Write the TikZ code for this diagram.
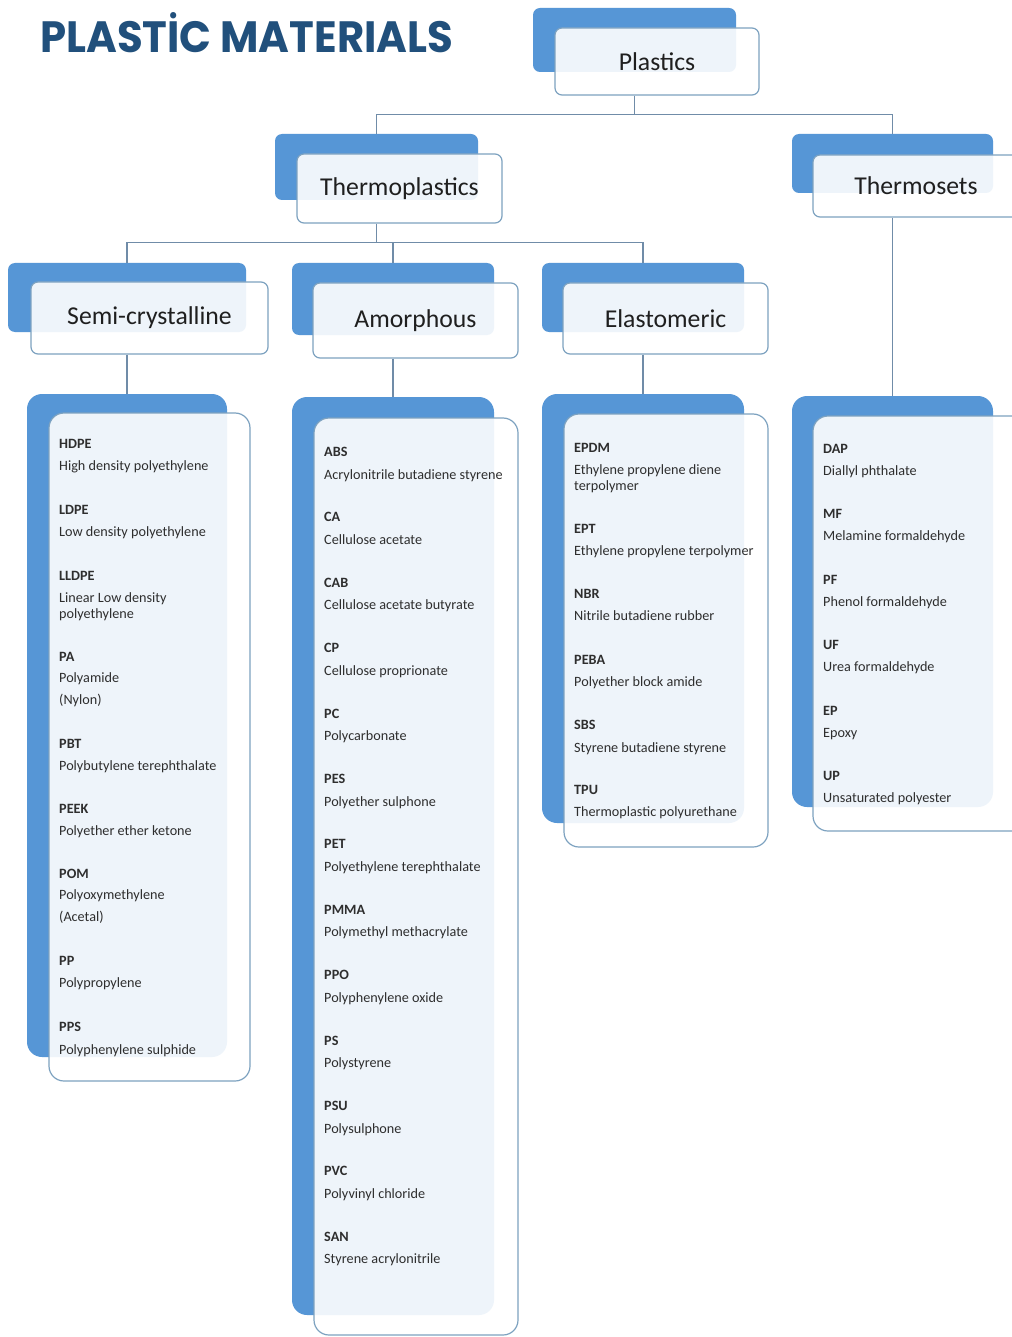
\documentclass[tikz,border=0pt]{standalone}
\usepackage{fontspec}
\setmainfont{Carlito}
\newfontfamily\titlefont{Poppins}
\definecolor{bbox}{RGB}{86,150,214}
\definecolor{wline}{RGB}{125,162,192}
\definecolor{connc}{RGB}{112,140,168}
\definecolor{ttl}{RGB}{33,80,124}
\newcommand\mkbox[6]{% name, style, x1, y1, x2, y2
  \node[#2, minimum width={(#5-#3)*1pt}, minimum height={(#6-#4)*1pt}] (#1) at ({(#3+#5)/2},{(#4+#6)/2}) {};}
\newcommand\mkhead[7]{% name, x1, y1, x2, y2, text, style
  \node[#7, minimum width={(#4-#2)*1pt}, minimum height={(#5-#3)*1pt}] (#1) at ({(#2+#4)/2},{(#3+#5)/2}) {#6};}
\newcommand\gap{\\[6.5pt]}
\tikzset{
  bluebox/.style={fill=bbox, draw=none, rounded corners=7pt, inner sep=0pt},
  whitebox/.style={fill=white, fill opacity=0.9, text opacity=1, draw=wline, line width=1.2pt,
     rounded corners=7pt, inner sep=0pt, font=\fontsize{25.7}{30}\selectfont, text=black!88},
  listblue/.style={bluebox, rounded corners=15pt},
  listwhite/.style={whitebox, rounded corners=15pt},
  itm/.style={anchor=north west, inner sep=0pt, align=left,
     font=\fontsize{14.2}{16}\selectfont, text=black!82},
  connline/.style={draw=connc, line width=1.2pt},
}
\begin{document}
\begin{tikzpicture}[x=1pt,y=-1pt]
\useasboundingbox (0,0) rectangle (1011,1337);
\fill[white] (0,0) rectangle (1011,1337);

% title
\node[anchor=base west, inner sep=0pt, text=ttl] (title) at (40,53)
  {\resizebox{413pt}{40pt}{\titlefont\bfseries PLASTİC MATERIALS}};

% header boxes
\mkbox{plb}{bluebox}{533}{8}{736}{72}
\mkhead{plw}{555}{28}{759}{95}{Plastics}{whitebox}
\mkbox{tpb}{bluebox}{275}{134}{478}{200}
\mkhead{tpw}{297}{154}{502}{223}{Thermoplastics}{whitebox}
\mkbox{tsb}{bluebox}{792}{134}{993}{193}
\mkhead{tsw}{813}{155}{1019}{217}{Thermosets}{whitebox}
\mkbox{scb}{bluebox}{8}{263}{246}{332}
\mkhead{scw}{31}{282}{268}{354}{Semi-crystalline}{whitebox}
\mkbox{amb}{bluebox}{292}{263}{494}{335}
\mkhead{amw}{313}{283}{518}{358}{Amorphous}{whitebox}
\mkbox{elb}{bluebox}{542}{263}{744}{332}
\mkhead{elw}{563}{283}{768}{354}{Elastomeric}{whitebox}

% list boxes
\mkbox{scl}{listblue}{27}{394}{227}{1057}
\mkbox{sclw}{listwhite}{49}{413}{250}{1081}
\mkbox{aml}{listblue}{292}{397}{494}{1315}
\mkbox{amlw}{listwhite}{314}{418}{518}{1335}
\mkbox{ell}{listblue}{542}{394}{744}{823}
\mkbox{ellw}{listwhite}{564}{414}{768}{847}
\mkbox{tsl}{listblue}{792}{396}{993}{807}
\mkbox{tslw}{listwhite}{813}{416}{1030}{831}

% connectors
\draw[connline] (plb.center |- plw.south) -- ++(0,19) coordinate (j1);
\draw[connline] (tpb.north) |- (j1) -| (tsb.north);
\draw[connline] (tpb.center |- tpw.south) -- ++(0,19) coordinate (j2);
\draw[connline] (scb.north) |- (j2) -| (elb.north);
\draw[connline] (amb.north) -- (amb.north |- j2);
\draw[connline] (scb.center |- scw.south) -- (scl.north);
\draw[connline] (amb.center |- amw.south) -- (aml.north);
\draw[connline] (elb.center |- elw.south) -- (ell.north);
\draw[connline] (tsb.center |- tsw.south) -- (tsl.north);

% semi-crystalline items
\node[itm] (s1) at (59,439) {\textbf{HDPE}\gap High density polyethylene};
\node[itm] (s2) at (59,505) {\textbf{LDPE}\gap Low density polyethylene};
\node[itm] (s3) at (59,571) {\textbf{LLDPE}\gap Linear Low density\\polyethylene};
\node[itm] (s4) at (59,652) {\textbf{PA}\\[5pt]Polyamide\\[6pt](Nylon)};
\node[itm] (s5) at (59,739) {\textbf{PBT}\gap Polybutylene terephthalate};
\node[itm] (s6) at (59,804) {\textbf{PEEK}\gap Polyether ether ketone};
\node[itm] (s7) at (59,869) {\textbf{POM}\\[5pt]Polyoxymethylene\\[6pt](Acetal)};
\node[itm] (s8) at (59,956) {\textbf{PP}\gap Polypropylene};
\node[itm] (s9) at (59,1022) {\textbf{PPS}\gap Polyphenylene sulphide};

% amorphous items
\foreach \ab/\de [count=\i from 0] in {
  ABS/Acrylonitrile butadiene styrene, CA/Cellulose acetate, CAB/Cellulose acetate butyrate,
  CP/Cellulose proprionate, PC/Polycarbonate, PES/Polyether sulphone,
  PET/Polyethylene terephthalate, PMMA/Polymethyl methacrylate, PPO/Polyphenylene oxide,
  PS/Polystyrene, PSU/Polysulphone, PVC/Polyvinyl chloride, SAN/Styrene acrylonitrile}
  \node[itm] (a\i) at (324,{447+65.4*\i}) {\textbf{\ab}\gap\de};

% elastomeric items
\node[itm] (e1) at (574,443) {\textbf{EPDM}\gap Ethylene propylene diene\\terpolymer};
\node[itm] (e2) at (574,524) {\textbf{EPT}\gap Ethylene propylene terpolymer};
\node[itm] (e3) at (574,589) {\textbf{NBR}\gap Nitrile butadiene rubber};
\node[itm] (e4) at (574,655) {\textbf{PEBA}\gap Polyether block amide};
\node[itm] (e5) at (574,720) {\textbf{SBS}\gap Styrene butadiene styrene};
\node[itm] (e6) at (574,785) {\textbf{TPU}\gap Thermoplastic polyurethane};

% thermoset items
\node[itm] (t1) at (823,444) {\textbf{DAP}\gap Diallyl phthalate};
\node[itm] (t2) at (823,509) {\textbf{MF}\gap Melamine formaldehyde};
\node[itm] (t3) at (823,575) {\textbf{PF}\gap Phenol formaldehyde};
\node[itm] (t4) at (823,640) {\textbf{UF}\gap Urea formaldehyde};
\node[itm] (t5) at (823,706) {\textbf{EP}\gap Epoxy};
\node[itm] (t6) at (823,771) {\textbf{UP}\gap Unsaturated polyester};
\end{tikzpicture}
\end{document}
